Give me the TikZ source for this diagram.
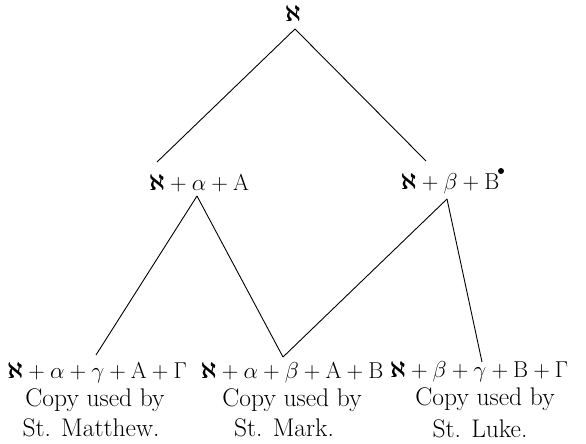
\RequirePackage{fix-cm}
\documentclass[tikz,border=0pt]{standalone}
\usepackage{amsmath}
\usetikzlibrary{calc}
\newcommand{\alf}{\boldsymbol{\aleph}}
\begin{document}
\begin{tikzpicture}[x=1pt,y=-1pt,
  lab/.style={inner sep=0pt,anchor=base,font=\fontsize{23}{28}\selectfont},
  captext/.style={inner sep=0pt,anchor=base,font=\fontsize{25.5}{30}\selectfont},
  conn/.style={line width=0.9pt}]
\useasboundingbox (0,0) rectangle (586,444);
% nodes
\node[lab] (r) at (293,22) {$\alf$};
\node[lab] (a) at (199,190) {$\alf+\alpha+\mathrm{A}$};
\node[lab] (b) at (450,189) {$\alf+\beta+\mathrm{B}$};
\node[lab] (m) at (97,378) {$\alf+\alpha+\gamma+\mathrm{A}+\Gamma$};
\node[lab] (k) at (292,378) {$\alf+\alpha+\beta+\mathrm{A}+\mathrm{B}$};
\node[lab] (l) at (479,377) {$\alf+\beta+\gamma+\mathrm{B}+\Gamma$};
\node[captext] (m1) at (95,406) {Copy used by};
\node[captext] (m2) at (91,436) {St. Matthew.};
\node[captext] (k1) at (292,406) {Copy used by};
\node[captext] (k2) at (284,436) {St. Mark.};
\node[captext] (l1) at (485,405) {Copy used by};
\node[captext] (l2) at (480,437) {St. Luke.};
% blot after B
\fill ($(b.base)+(51,-18)$) circle (3);
% connectors
\draw[conn] ($(r.base)+(2,7)$) -- ($(a.base)+(-42,-28)$);
\draw[conn] ($(r.base)+(2,7)$) -- ($(b.base)+(-24,-28)$);
\draw[conn] ($(a.base)+(-2,6)$) -- ($(m.base)+(-1,-23)$);
\draw[conn] ($(a.base)+(-2,6)$) -- ($(k.base)+(-9,-21)$);
\draw[conn] ($(b.base)+(-3,10)$) -- ($(k.base)+(-9,-21)$);
\draw[conn] ($(b.base)+(-3,10)$) -- ($(l.base)+(3,-15)$);
\end{tikzpicture}
\end{document}
